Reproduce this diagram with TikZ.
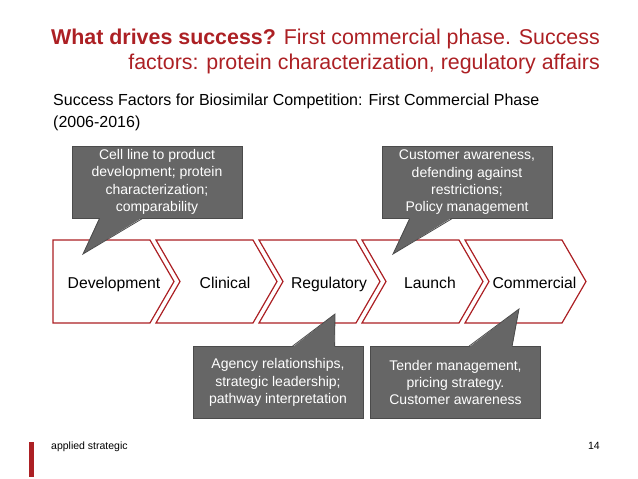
\documentclass[tikz,border=0pt]{standalone}
\usepackage{fontspec}
\setmainfont{Liberation Sans}
\usepackage{xcolor}
\usetikzlibrary{positioning,calc}

\definecolor{slidered}{RGB}{172,32,36}
\definecolor{notegray}{RGB}{102,102,102}
\definecolor{noteedge}{RGB}{75,75,75}

\tikzset{
  phase/.style={draw=slidered,line width=1.2pt,fill=white,line join=miter},
  phaselabel/.style={font=\fontsize{15.7}{19}\selectfont,inner sep=0pt,anchor=base},
  note/.style={draw=noteedge,line width=0.8pt,fill=notegray,text=white,align=center,
    font=\fontsize{14}{17.3}\selectfont,inner sep=0pt,minimum width=170pt,minimum height=72pt},
  pointer/.style={fill=notegray},
  pointeredge/.style={draw=noteedge,line width=0.8pt},
}

\begin{document}
\begin{tikzpicture}[x=1pt,y=-1pt]
  \useasboundingbox (0,0) rectangle (638,479);

  % title
  \node[anchor=north east,align=right,inner sep=0pt,text=slidered,
        font=\fontsize{21.4}{25}\selectfont] (title) at (600,29)
    {\textbf{What drives success?} First commercial phase. Success\\
     factors: protein characterization, regulatory affairs};
  \node[anchor=north west,align=left,inner sep=0pt,
        font=\fontsize{16}{22}\selectfont] (subtitle) at (53,94)
    {Success Factors for Biosimilar Competition: First Commercial Phase\\
     (2006-2016)};

  % phases
  \draw[phase] (53,240) -- (150,240) -- (174,281.5) -- (150,323) -- (53,323) -- cycle;
  \draw[phase] (156,240) -- (253,240) -- (277,281.5) -- (253,323) -- (156,323) -- (180,281.5) -- cycle;
  \draw[phase] (259,240) -- (356,240) -- (380,281.5) -- (356,323) -- (259,323) -- (283,281.5) -- cycle;
  \draw[phase] (362,240) -- (459,240) -- (483,281.5) -- (459,323) -- (362,323) -- (386,281.5) -- cycle;
  \draw[phase] (465,240) -- (562,240) -- (586,281.5) -- (562,323) -- (465,323) -- (489,281.5) -- cycle;
  \node[phaselabel] (dev) at (114,288) {Development};
  \node[phaselabel] (cli) at (225,288) {Clinical};
  \node[phaselabel] (reg) at (329,288) {Regulatory};
  \node[phaselabel] (lau) at (430,288) {Launch};
  \node[phaselabel] (com) at (534.5,288) {Commercial};

  % callouts
  \node[note] (devnote) at (157,182)
    {Cell line to product\\ development; protein\\ characterization;\\ comparability};
  \node[note] (launote) at (467,182.5)
    {Customer awareness,\\ defending against\\ restrictions;\\ Policy management};
  \node[note] (regnote) at (278,382.5)
    {Agency relationships,\\ strategic leadership;\\ pathway interpretation};
  \node[note] (comnote) at (455.5,382.5)
    {Tender management,\\ pricing strategy.\\ Customer awareness};

  \coordinate (devtip) at (83,254);
  \coordinate (lautip) at (393,254);
  \coordinate (regtip) at (335,314);
  \coordinate (comtip) at (519,309);

  \fill[pointer] ($(devnote.south west)+(28,-1)$) -- (devtip) -- ($(devnote.south west)+(71,-1)$) -- cycle;
  \draw[pointeredge] ($(devnote.south west)+(28,0)$) -- (devtip) -- ($(devnote.south west)+(71,0)$);
  \fill[pointer] ($(launote.south west)+(28,-1)$) -- (lautip) -- ($(launote.south west)+(70,-1)$) -- cycle;
  \draw[pointeredge] ($(launote.south west)+(28,0)$) -- (lautip) -- ($(launote.south west)+(70,0)$);
  \fill[pointer] ($(regnote.north west)+(100,1)$) -- (regtip) -- ($(regnote.north west)+(142,1)$) -- cycle;
  \draw[pointeredge] ($(regnote.north west)+(100,0)$) -- (regtip) -- ($(regnote.north west)+(142,0)$);
  \fill[pointer] ($(comnote.north west)+(99,1)$) -- (comtip) -- ($(comnote.north west)+(142,1)$) -- cycle;
  \draw[pointeredge] ($(comnote.north west)+(99,0)$) -- (comtip) -- ($(comnote.north west)+(142,0)$);

  % footer
  \fill[slidered] (29,442) rectangle (34,477);
  \node[anchor=base west,inner sep=0pt,font=\fontsize{10.5}{12}\selectfont] (brand) at (51,449) {applied strategic};
  \node[anchor=base east,inner sep=0pt,font=\fontsize{10.5}{12}\selectfont] (page) at (600,449) {14};
\end{tikzpicture}
\end{document}
